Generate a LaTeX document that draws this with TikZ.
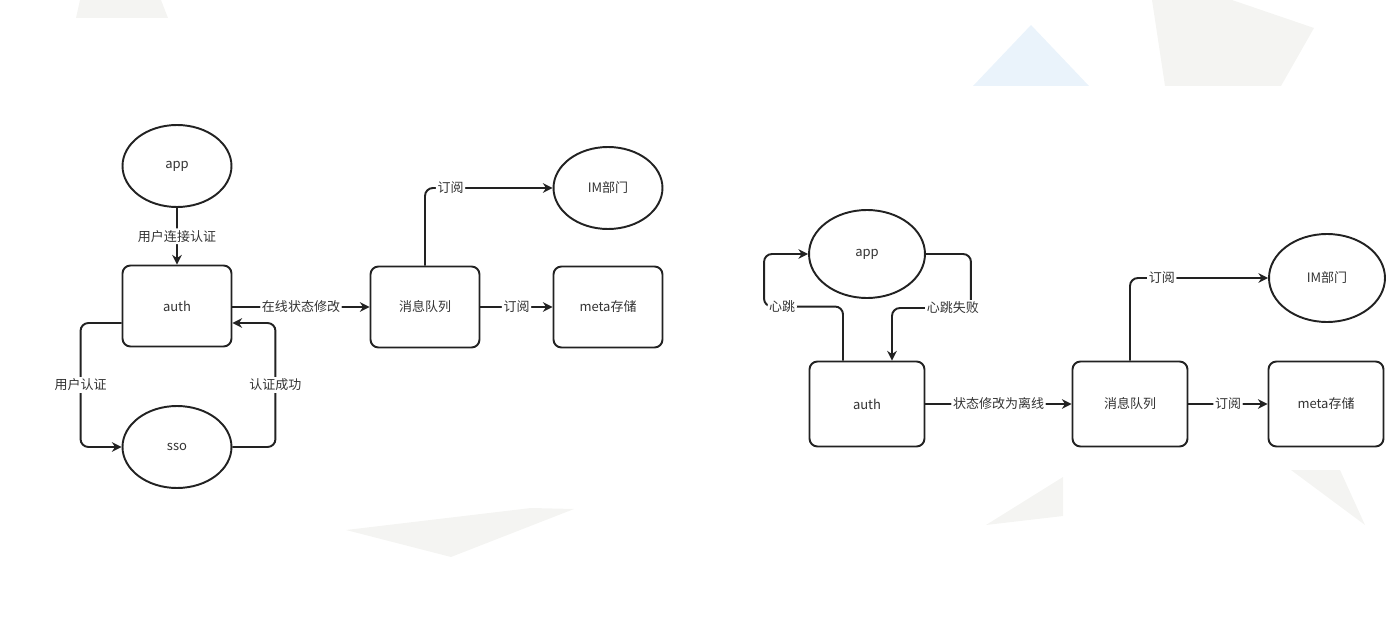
\documentclass[tikz,border=0pt]{standalone}
\usepackage{fontspec}
\setmainfont{Noto Sans CJK SC}
\usepackage{xcolor}
\usetikzlibrary{arrows.meta,positioning,calc,shapes.geometric}
\definecolor{inkgray}{HTML}{222222}
\definecolor{textgray}{HTML}{333333}
\definecolor{bggray}{HTML}{F4F4F2}
\definecolor{bgblue}{HTML}{EAF3FB}
\tikzset{
	box/.style={draw=inkgray, rounded corners=4.5pt, line width=1.1pt, align=center, inner sep=0pt, text=textgray},
	oval/.style={draw=inkgray, ellipse, line width=1.1pt, align=center, inner sep=0pt, text=textgray},
	arrow/.style={-{Stealth[length=5.5pt, width=5.5pt, inset=1.8pt]}, draw=inkgray, line width=1.1pt, rounded corners=4.5pt},
	tinylabel/.style={fill=white, inner sep=1pt, text=textgray},
	smallpart/.style={minimum width=2.18cm, minimum height=1.62cm},
	smalloval/.style={minimum width=2.18cm, minimum height=1.64cm},
	bigpart/.style={minimum width=2.3cm, minimum height=1.7cm},
	bigoval/.style={minimum width=2.32cm, minimum height=1.76cm}
}
\begin{document}
\begin{tikzpicture}[x=0.02cm, y=-0.02cm, font=\fontsize{7.4pt}{9pt}\selectfont]
	\useasboundingbox (0,0) rectangle (1400,635);
	% faint background shapes
	\fill[bggray] (80,0) -- (161,0) -- (168,18) -- (76,18) -- cycle;
	\fill[bgblue] (1031,25) -- (1089,86) -- (973,86) -- cycle;
	\fill[bggray] (1152,0) -- (1232,0) -- (1314,28) -- (1281,86) -- (1165,86) -- cycle;
	\fill[bggray] (346,530) -- (531,508) -- (574,509) -- (451,557) -- cycle;
	\fill[bggray] (1063,477) -- (1063,516) -- (986,525) -- cycle;
	\fill[bggray] (1291,470) -- (1340,470) -- (1365,525) -- cycle;

	% online: login flow
	\node[oval, smalloval] (lapp) at (177,166) {app};
	\node[box, smallpart] (lauth) at (177,306) {auth};
	\node[oval, smalloval] (lsso) at (177,447) {sso};
	\node[box, smallpart] (lmq) at (425,307) {消息队列};
	\node[box, smallpart] (lmeta) at (608,307) {meta存储};
	\node[oval, smalloval] (lim) at (608,188) {IM部门};

	\draw[arrow] (lapp) -- node[tinylabel]{用户连接认证} (lauth);
	\draw[arrow] ($(lauth.west)+(0,17)$) -- ++(-41,0) |- node[tinylabel, pos=0.25]{用户认证} (lsso.west);
	\draw[arrow] (lsso.east) -- ++(43,0) |- node[tinylabel, pos=0.25]{认证成功} ($(lauth.east)+(0,17)$);
	\draw[arrow] (lauth.east |- lmq.west) -- node[tinylabel]{在线状态修改} (lmq.west);
	\draw[arrow] (lmq) -- node[tinylabel]{订阅} (lmeta);
	\draw[arrow] (lmq.north) |- node[tinylabel, pos=0.6]{订阅} (lim.west);

	% offline: heartbeat flow
	\node[oval, bigoval] (rapp) at (867,254) {app};
	\node[box, bigpart] (rauth) at (867,404) {auth};
	\node[box, bigpart] (rmq) at (1130,404) {消息队列};
	\node[box, bigpart] (rmeta) at (1326,404) {meta存储};
	\node[oval, bigoval] (rim) at (1327,278) {IM部门};

	\draw[arrow] ($(rauth.north)+(-24,0)$) -- ++(0,-54) -| node[tinylabel, pos=0.385]{心跳} ($(rapp.west)+(-44,0)$) -- (rapp.west);
	\draw[arrow] (rapp.east) -- ++(45,0) -- ++(0,54) -| node[tinylabel, pos=0.115]{心跳失败} ($(rauth.north)+(25,0)$);
	\draw[arrow] (rauth) -- node[tinylabel]{状态修改为离线} (rmq);
	\draw[arrow] (rmq) -- node[tinylabel]{订阅} (rmeta);
	\draw[arrow] (rmq.north) |- node[tinylabel, pos=0.615]{订阅} (rim.west);
\end{tikzpicture}
\end{document}
